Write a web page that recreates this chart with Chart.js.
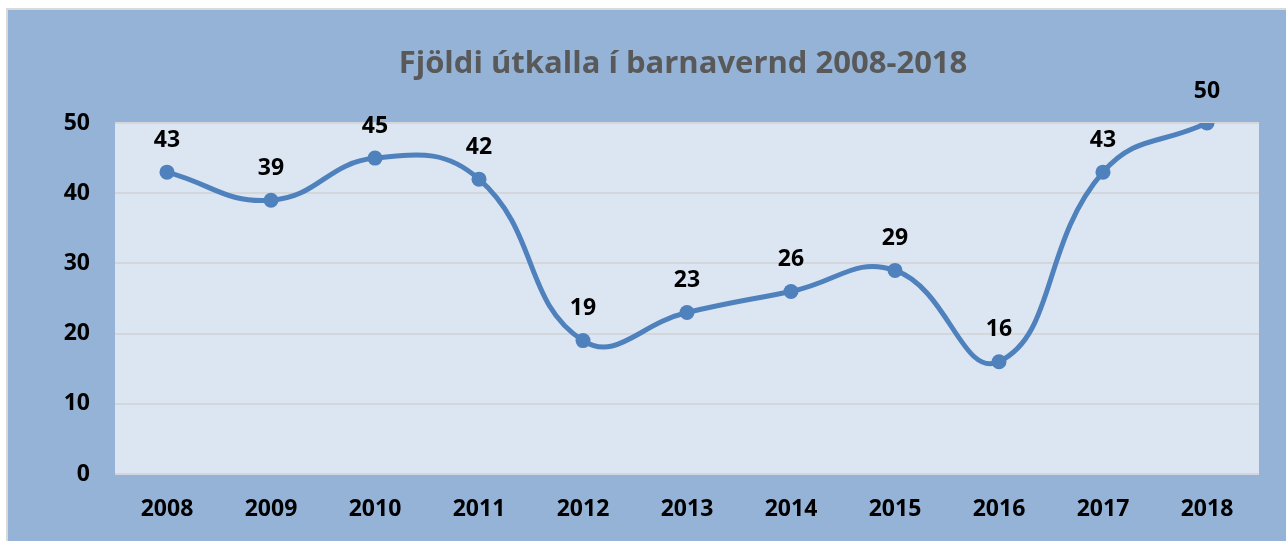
<!DOCTYPE html>
<html lang="is">
<head>
<meta charset="UTF-8">
<title>Fjöldi útkalla í barnavernd 2008-2018</title>
<script src="https://cdn.jsdelivr.net/npm/chart.js"></script>
<style>
  body { margin: 0; background: #fff; }
  #wrap { width: 1286px; height: 541px; }
</style>
</head>
<body>
<div id="wrap"><canvas id="lineChart" width="1286" height="541"></canvas></div>
<script>
// gögn
const years = ['2008', '2009', '2010', '2011', '2012', '2013', '2014', '2015', '2016', '2017', '2018'];
const calls = [43, 39, 45, 42, 19, 23, 26, 29, 16, 43, 50];
const yTicks = [0, 10, 20, 30, 40, 50];
const chartTitle = 'Fjöldi útkalla í barnavernd 2008-2018';

const FONT = "'Open Sans', 'DejaVu Sans', sans-serif";

// bakgrunnur, rammi og titill
const background = {
    id: 'background',
    beforeDraw(chart) {
        const c = chart.ctx;
        const a = chart.chartArea;
        c.save();
        c.fillStyle = '#ffffff';
        c.fillRect(0, 0, chart.width, chart.height);
        c.fillStyle = '#95b3d7';
        c.fillRect(8, 10, chart.width - 8, chart.height - 10);
        c.strokeStyle = '#d9d9d9';
        c.lineWidth = 2;
        c.strokeRect(7, 9, chart.width, chart.height);
        c.fillStyle = '#dce6f2';
        c.fillRect(a.left, a.top, a.right - a.left, a.bottom - a.top);

        c.font = 'bold 31px ' + FONT;
        c.fillStyle = '#595959';
        c.textAlign = 'center';
        c.textBaseline = 'alphabetic';
        c.fillText(chartTitle, 683, 73);
        c.restore();
    }
};

// tölur fyrir ofan punkta
const pointLabels = {
    id: 'pointLabels',
    afterDatasetsDraw(chart) {
        const c = chart.ctx;
        const meta = chart.getDatasetMeta(0);
        c.save();
        c.font = 'bold 23px ' + FONT;
        c.fillStyle = '#000';
        c.textAlign = 'center';
        c.textBaseline = 'middle';
        meta.data.forEach(function (pt, i) {
            c.fillText(String(calls[i]), pt.x, pt.y - 32);
        });
        c.restore();
    }
};

new Chart(document.getElementById('lineChart'), {
    type: 'line',
    data: {
        labels: years,
        datasets: [{
            data: calls,
            borderColor: '#4f81bd',
            backgroundColor: '#4f81bd',
            borderWidth: 5,
            pointRadius: 7.5,
            pointHoverRadius: 7.5,
            pointBorderWidth: 0,
            tension: 0.45,
            fill: false
        }]
    },
    options: {
        responsive: false,
        animation: false,
        layout: { padding: { left: 0, right: 27, top: 123, bottom: 0 } },
        plugins: {
            legend: { display: false },
            tooltip: { enabled: false },
            title: { display: false }
        },
        scales: {
            x: {
                offset: true,
                grid: { display: false, drawTicks: false },
                border: { display: false },
                ticks: {
                    color: '#000',
                    padding: 22,
                    font: { family: FONT, size: 23, weight: 'bold' }
                },
                afterFit(scale) { scale.height = 67; }
            },
            y: {
                min: 0,
                max: 50,
                afterBuildTicks(scale) {
                    scale.ticks = yTicks.map(v => ({ value: v }));
                },
                grid: { color: '#d3d7dc', lineWidth: 2, drawTicks: false },
                border: { display: false },
                ticks: {
                    color: '#000',
                    padding: 25,
                    font: { family: FONT, size: 23, weight: 'bold' }
                },
                afterFit(scale) { scale.width = 115; }
            }
        }
    },
    plugins: [background, pointLabels]
});
</script>
</body>
</html>
